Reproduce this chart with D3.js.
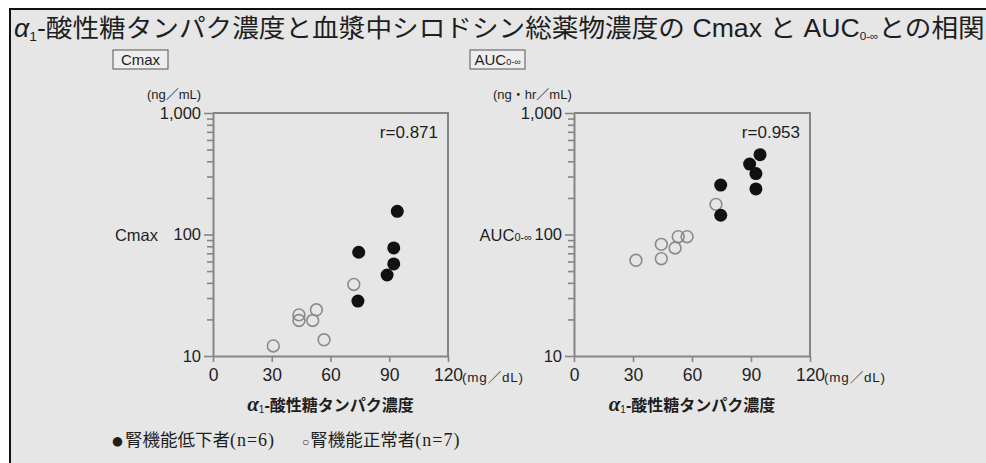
<!DOCTYPE html>
<html><head><meta charset="utf-8">
<script src="https://cdn.jsdelivr.net/npm/d3@7"></script>
<style>
html,body{margin:0;padding:0;background:#fff;}
svg{display:block;}
text{font-family:"Liberation Sans",Arial,"Noto Sans CJK JP",sans-serif;fill:#1e1e1e;}
</style></head><body>
<svg id="c" width="986" height="463"></svg>
<script>
// ---- data ----
const xTickValues=[0,30,60,90,120];
const yMajorTicks=[10,100,1000];
const yMinorTicks=[20,30,40,50,60,70,80,90,200,300,400,500,600,700,800,900];
const cmaxLowX=[94.1,74.4,92.3,92.3,88.9,74.0];
const cmaxLowY=[155,71.4,77.6,57.3,46.4,28.3];
const cmaxNormX=[71.9,52.8,43.9,43.9,50.9,56.7,30.8];
const cmaxNormY=[38.8,24.0,21.8,19.6,19.6,13.6,12.1];
const aucLowX=[94.6,89.3,92.5,92.5,74.6,74.6];
const aucLowY=[454,380,317,237,255,144];
const aucNormX=[72.2,53.0,57.5,44.4,51.4,44.4,31.5];
const aucNormY=[177,95.9,95.9,83.0,77.4,63.2,61.3];
const rLabels=["r=0.871","r=0.953"];
const panelNames=["Cmax","AUC"];
const yUnits=["(ng／mL)","(ng・hr／mL)"];
const xUnit="(mg／dL)";
const legendLabels=["腎機能低下者","腎機能正常者"];
const legendN=["(n=6)","(n=7)"];

const svg=d3.select("#c");
svg.append("rect").attr("x",0).attr("y",0).attr("width",986).attr("height",463).attr("fill","#fff");
svg.append("rect").attr("x",10).attr("y",9).attr("width",976).attr("height",454).attr("fill","#e6e6e6");
svg.append("line").attr("x1",9).attr("x2",986).attr("y1",9).attr("y2",9).attr("stroke","#111").attr("stroke-width",2);
svg.append("line").attr("x1",10).attr("x2",10).attr("y1",9).attr("y2",463).attr("stroke","#111").attr("stroke-width",2);

// title
const title=svg.append("text").attr("x",14).attr("y",37).attr("font-size",25).attr("font-family","'Noto Sans CJK JP',sans-serif");
title.append("tspan").attr("font-style","italic").text("α");
title.append("tspan").attr("font-size",13).attr("dy",4).text("1");
title.append("tspan").attr("dy",-4).text("-酸性糖タンパク濃度と血漿中シロドシン総薬物濃度の ");
title.append("tspan").attr("font-family","'Liberation Sans',Arial").text("Cmax");
title.append("tspan").text(" と ");
title.append("tspan").attr("font-family","'Liberation Sans',Arial").text("AUC");
title.append("tspan").attr("font-size",11).attr("dy",3).attr("font-family","'Liberation Sans',Arial").text("0-∞");
title.append("tspan").attr("dy",-3).text("との相関");
const tw=title.node().getComputedTextLength();
title.attr("transform",`translate(14,0) scale(${971/tw},1) translate(-14,0)`);

const panels=[
 {left:213,right:448,lowX:cmaxLowX,lowY:cmaxLowY,normX:cmaxNormX,normY:cmaxNormY},
 {left:574,right:810,lowX:aucLowX,lowY:aucLowY,normX:aucNormX,normY:aucNormY}
];
const plotTop=113,plotBottom=356;
const axisColor="#858585";

panels.forEach((p,i)=>{
  const x=d3.scaleLinear().domain([0,120]).range([p.left,p.right]);
  const y=d3.scaleLog().domain([10,1000]).range([plotBottom,plotTop]);
  const g=svg.append("g");
  g.append("path").attr("d",`M${p.left},${plotTop}H${p.right}V${plotBottom}`).attr("fill","none").attr("stroke",axisColor).attr("stroke-width",2);
  const ym=g.append("g").attr("transform",`translate(${p.left},0)`)
    .call(d3.axisLeft(y).tickValues(yMinorTicks).tickSize(6).tickSizeOuter(0).tickFormat(""));
  ym.select(".domain").remove();
  ym.selectAll("line").attr("stroke",axisColor).attr("stroke-width",1.6);
  const yg=g.append("g").attr("transform",`translate(${p.left},0)`)
    .call(d3.axisLeft(y).tickValues(yMajorTicks).tickSize(9).tickSizeOuter(0).tickPadding(3).tickFormat(d3.format(",")));
  yg.select(".domain").attr("stroke",axisColor).attr("stroke-width",2);
  yg.selectAll("line").attr("stroke",axisColor).attr("stroke-width",1.6);
  yg.selectAll("text").attr("font-size",16.5).attr("fill","#1e1e1e").attr("font-family","'Liberation Sans',Arial");
  const xg=g.append("g").attr("transform",`translate(0,${plotBottom})`)
    .call(d3.axisBottom(x).tickValues(xTickValues).tickSize(6).tickSizeOuter(0).tickPadding(7));
  xg.select(".domain").attr("stroke",axisColor).attr("stroke-width",2);
  xg.selectAll("line").attr("stroke",axisColor).attr("stroke-width",1.6);
  xg.selectAll("text").attr("font-size",17.5).attr("fill","#1e1e1e").attr("font-family","'Liberation Sans',Arial");
  g.append("text").attr("x",x(120)+14).attr("y",382).attr("font-size",13.5).attr("letter-spacing",0.8).text(xUnit);
  const xt=g.append("text").attr("x",x(60)).attr("y",411).attr("text-anchor","middle")
    .attr("font-size",16).attr("font-weight","bold").attr("font-family","'Noto Sans CJK JP',sans-serif");
  xt.append("tspan").attr("font-style","italic").attr("font-size",21).attr("font-family","'Liberation Serif',serif").text("α");
  xt.append("tspan").attr("font-size",10).attr("dy",2).attr("font-weight","normal").text("1");
  xt.append("tspan").attr("dy",-2).text("-酸性糖タンパク濃度");
  g.append("text").attr("x",i?p.left-81:p.left-66).attr("y",99).attr("font-size",13).text(yUnits[i]);
  const yl=g.append("text").attr("x",i?p.left-42:p.left-55).attr("y",y(100)+6).attr("text-anchor","end").attr("font-size",16.5);
  yl.append("tspan").text(panelNames[i]);
  if(i) yl.append("tspan").attr("font-size",11).text("0-∞");
  const bx=p.left-100+(i?-4:0);
  const bw=55;
  g.append("rect").attr("x",bx).attr("y",50).attr("width",bw).attr("height",19).attr("fill","#eeeeee").attr("stroke","#555").attr("stroke-width",1);
  const bl=g.append("text").attr("x",bx+bw/2).attr("y",65).attr("text-anchor","middle").attr("font-size",15);
  bl.append("tspan").text(panelNames[i]);
  if(i) bl.append("tspan").attr("font-size",9).text("0-∞");
  g.append("text").attr("x",p.right-10).attr("y",138).attr("text-anchor","end").attr("font-size",17).text(rLabels[i]);
  const norm=p.normX.map((v,k)=>[v,p.normY[k]]);
  const low=p.lowX.map((v,k)=>[v,p.lowY[k]]);
  g.selectAll(".o").data(norm).join("circle").attr("cx",d=>x(d[0])).attr("cy",d=>y(d[1])).attr("r",5.9)
    .attr("fill","none").attr("stroke","#8a8a8a").attr("stroke-width",1.6);
  g.selectAll(".f").data(low).join("circle").attr("cx",d=>x(d[0])).attr("cy",d=>y(d[1])).attr("r",6.5).attr("fill","#111");
});

const lg=svg.append("g");
const l1=lg.append("text").attr("x",112).attr("y",446).attr("font-size",17.5).attr("font-family","'Noto Sans CJK JP',sans-serif");
l1.append("tspan").attr("font-size",12.5).attr("font-family","'DejaVu Sans',sans-serif").attr("dy",-1).text("●");
l1.append("tspan").attr("dx",2).attr("dy",1).text(legendLabels[0]);
l1.append("tspan").attr("font-family","'Liberation Serif',serif").attr("font-size",18).attr("letter-spacing",1).text(legendN[0]);
const l2=lg.append("text").attr("x",302).attr("y",446).attr("font-size",17.5).attr("font-family","'Noto Sans CJK JP',sans-serif");
l2.append("tspan").attr("font-size",12).text("○");
l2.append("tspan").attr("dx",1).text(legendLabels[1]);
l2.append("tspan").attr("font-family","'Liberation Serif',serif").attr("font-size",18).attr("letter-spacing",1).text(legendN[1]);
</script>
</body></html>
